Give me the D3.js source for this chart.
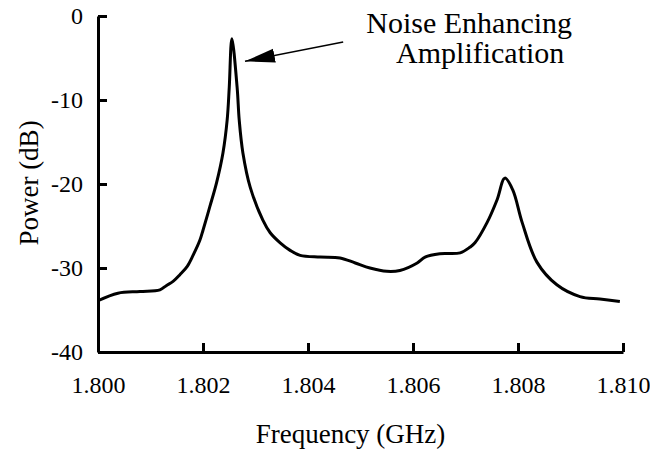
<!DOCTYPE html>
<html>
<head>
<meta charset="utf-8">
<script src="https://cdn.jsdelivr.net/npm/d3@7"></script>
<style>
  body { margin: 0; background: #fff; }
</style>
</head>
<body>
<div id="canvas"></div>
<script>
const serif = '"Liberation Serif", "Times New Roman", serif';

// spectrum (GHz, dB)
const freq = [1.80000, 1.80038, 1.80080, 1.80118, 1.80130, 1.80143, 1.80156, 1.80170, 1.80181, 1.80194,
  1.80200, 1.80213, 1.80226, 1.80238, 1.80246, 1.80250, 1.80255, 1.80265, 1.80269, 1.80276,
  1.80290, 1.80314, 1.80328, 1.80347, 1.80366, 1.80385, 1.80423, 1.80461, 1.80490, 1.80518,
  1.80550, 1.80575, 1.80608, 1.80623, 1.80651, 1.80690, 1.80709, 1.80718, 1.80741, 1.80760,
  1.80775, 1.80790, 1.80808, 1.80836, 1.80874, 1.80918, 1.80956, 1.80994];
const power = [-33.9, -33.0, -32.8, -32.6, -32.1, -31.6, -30.8, -29.8, -28.5, -26.7,
  -25.5, -22.7, -19.8, -16.3, -12.4, -8.5, -2.7, -8.5, -12.4, -16.3,
  -20.4, -24.3, -25.8, -27.0, -27.9, -28.5, -28.7, -28.8, -29.4, -30.0,
  -30.4, -30.3, -29.4, -28.7, -28.3, -28.2, -27.5, -27.0, -24.6, -21.9,
  -19.3, -20.7, -24.6, -29.3, -32.0, -33.4, -33.7, -34.0];

const xTicks = [1.800, 1.802, 1.804, 1.806, 1.808, 1.810];
const yTicks = [0, -10, -20, -30, -40];

// annotation anchor points in data units
const noteLines = ["Noise Enhancing", "Amplification"];
const notePos = [[1.80707, -2.0], [1.80728, -5.6]];
const arrowFrom = [1.80467, -3.1];
const arrowTo = [1.80280, -5.4];

const margin = { top: 16, right: 27, bottom: 99, left: 98 },
    width = 650 - margin.left - margin.right,
    height = 451 - margin.top - margin.bottom;

const svg = d3.select("#canvas")
    .append("svg")
    .attr("width", 650)
    .attr("height", 451)
    .append("g")
    .attr("transform", `translate(${margin.left},${margin.top})`);

const x = d3.scaleLinear().domain([1.800, 1.810]).range([0, width]);
const y = d3.scaleLinear().domain([-40, 0]).range([height, 0]);

// X axis, ticks pointing inward
const gx = svg.append("g")
    .attr("transform", "translate(0," + height + ")")
    .call(d3.axisBottom(x).tickValues(xTicks).tickFormat(d3.format(".3f"))
        .tickSizeInner(-9).tickSizeOuter(0).tickPadding(24));

// Y axis
const gy = svg.append("g")
    .call(d3.axisLeft(y).tickValues(yTicks).tickFormat(d => d)
        .tickSizeInner(-9).tickSizeOuter(0).tickPadding(15));

[gx, gy].forEach(g => {
    g.selectAll("text")
        .attr("fill", "#000")
        .style("font-family", serif)
        .style("font-size", "24px");
});

svg.selectAll(".domain, .tick line").attr("stroke", "#000").attr("stroke-width", 3);

// Curve
const pts = freq.map((f, i) => ({ f: f, p: power[i] }));
svg.append("path")
    .datum(pts)
    .attr("fill", "none")
    .attr("stroke", "#000")
    .attr("stroke-width", 3)
    .attr("stroke-linejoin", "round")
    .attr("d", d3.line()
        .x(d => x(d.f))
        .y(d => y(d.p))
        .curve(d3.curveCatmullRom.alpha(0.5)));

// Axis titles
svg.append("text")
    .attr("x", width / 2 - 10)
    .attr("y", height + 91)
    .attr("text-anchor", "middle")
    .style("font-family", serif)
    .style("font-size", "27px")
    .text("Frequency (GHz)");

svg.append("text")
    .attr("transform", `translate(-60,${height / 2 - 1}) rotate(-90)`)
    .attr("text-anchor", "middle")
    .style("font-family", serif)
    .style("font-size", "27px")
    .text("Power (dB)");

// Annotation
d3.select("svg").append("defs").append("marker")
    .attr("id", "head")
    .attr("markerUnits", "userSpaceOnUse")
    .attr("viewBox", "0 -8 30 16")
    .attr("refX", 30).attr("refY", 0)
    .attr("markerWidth", 30).attr("markerHeight", 16)
    .attr("orient", "auto")
    .append("path")
    .attr("d", "M0,-7L30,0L0,7Z")
    .attr("fill", "#000");

svg.append("line")
    .attr("x1", x(arrowFrom[0])).attr("y1", y(arrowFrom[1]))
    .attr("x2", x(arrowTo[0])).attr("y2", y(arrowTo[1]))
    .attr("stroke", "#000")
    .attr("stroke-width", 1.5)
    .attr("marker-end", "url(#head)");

svg.selectAll(".note")
    .data(noteLines)
    .join("text")
    .attr("class", "note")
    .attr("x", (d, i) => x(notePos[i][0]))
    .attr("y", (d, i) => y(notePos[i][1]))
    .attr("text-anchor", "middle")
    .style("font-family", serif)
    .style("font-size", "30px")
    .text(d => d);
</script>
</body>
</html>
